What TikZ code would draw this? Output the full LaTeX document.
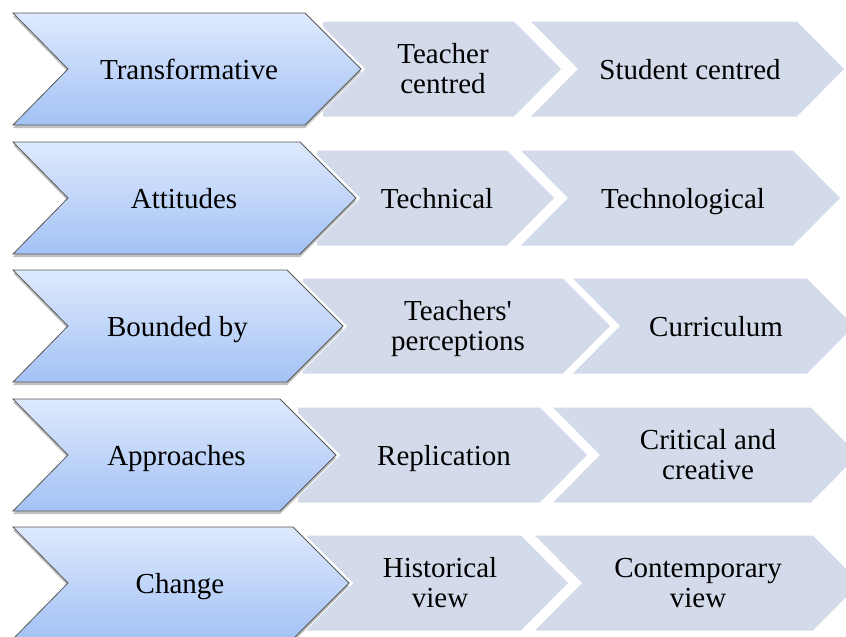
\documentclass[tikz,border=0pt]{standalone}
\usepackage{fontspec}
\setmainfont{Liberation Serif}
\usetikzlibrary{shadows}
\definecolor{greyfill}{RGB}{211,219,234}
\definecolor{bluetop}{RGB}{222,233,253}
\definecolor{bluebot}{RGB}{163,194,245}
\definecolor{blueline}{RGB}{88,88,88}
\tikzset{
  greyshape/.style={fill=greyfill, draw=none},
  bluehalo/.style={draw=white, line width=6pt, line join=miter},
  blueshape/.style={top color=bluetop, bottom color=bluebot, draw=blueline,
    line width=0.8pt, line join=miter,
    drop shadow={shadow xshift=0pt, shadow yshift=-3pt, opacity=.35, fill=black!70}},
  lbl/.style={font=\fontsize{29}{30}\selectfont, align=center, text=black,
    inner sep=0pt, anchor=base},
}
\newcommand\bluechev[2]{% #1 top y, #2 top-right x
  \draw[bluehalo] (13,#1) -- (#2,#1) -- ({#2+56},{#1+56}) -- (#2,{#1+112}) -- (13,{#1+112}) -- (68,{#1+56}) -- cycle;
  \path[blueshape] (13,#1) -- (#2,#1) -- ({#2+56},{#1+56}) -- (#2,{#1+112}) -- (13,{#1+112}) -- (68,{#1+56}) -- cycle;
}
\newcommand\greyfirst[3]{% #1 centre y, #2 left x, #3 top-right x
  \fill[greyshape] (#2,{#1-47.5}) -- (#3,{#1-47.5}) -- ({#3+47},#1) -- (#3,{#1+47.5}) -- (#2,{#1+47.5}) -- cycle;
}
\newcommand\greysecond[3]{% #1 centre y, #2 top-left x, #3 top-right x
  \fill[greyshape] (#2,{#1-47.5}) -- (#3,{#1-47.5}) -- ({#3+47},#1) -- (#3,{#1+47.5}) -- (#2,{#1+47.5}) -- ({#2+47},#1) -- cycle;
}
\begin{document}
\begin{tikzpicture}[x=1pt, y=-1pt]
\useasboundingbox (0,0) rectangle (846,637);
\clip (0,0) rectangle (846,637);

% Row 1
\greyfirst{69}{323}{514}
\greysecond{69}{531}{797}
\bluechev{13}{305}
\node[lbl] (r1a) at (189,79) {Transformative};
\node[lbl] (r1b) at (443,93.5) {Teacher\\centred};
\node[lbl] (r1c) at (690,79) {Student centred};

% Row 2
\greyfirst{198}{317}{507}
\greysecond{198}{521}{793}
\bluechev{142}{300}
\node[lbl] (r2a) at (184,208) {Attitudes};
\node[lbl] (r2b) at (437,208) {Technical};
\node[lbl] (r2c) at (683,208) {Technological};

% Row 3
\greyfirst{326}{303}{563}
\greysecond{326}{573}{807}
\bluechev{270}{287}
\node[lbl] (r3a) at (177.5,336) {Bounded by};
\node[lbl] (r3b) at (458,350.5) {Teachers\textquotesingle\\perceptions};
\node[lbl] (r3c) at (716,336) {Curriculum};

% Row 4
\greyfirst{455}{298}{540}
\greysecond{455}{553}{811}
\bluechev{399}{280}
\node[lbl] (r4a) at (176.5,465) {Approaches};
\node[lbl] (r4b) at (444,465) {Replication};
\node[lbl] (r4c) at (708,479.5) {Critical and\\creative};

% Row 5
\greyfirst{583}{307}{521}
\greysecond{583}{535}{813}
\bluechev{527}{293}
\node[lbl] (r5a) at (180,593) {Change};
\node[lbl] (r5b) at (440,607.5) {Historical\\view};
\node[lbl] (r5c) at (698,607.5) {Contemporary\\view};
\end{tikzpicture}
\end{document}
